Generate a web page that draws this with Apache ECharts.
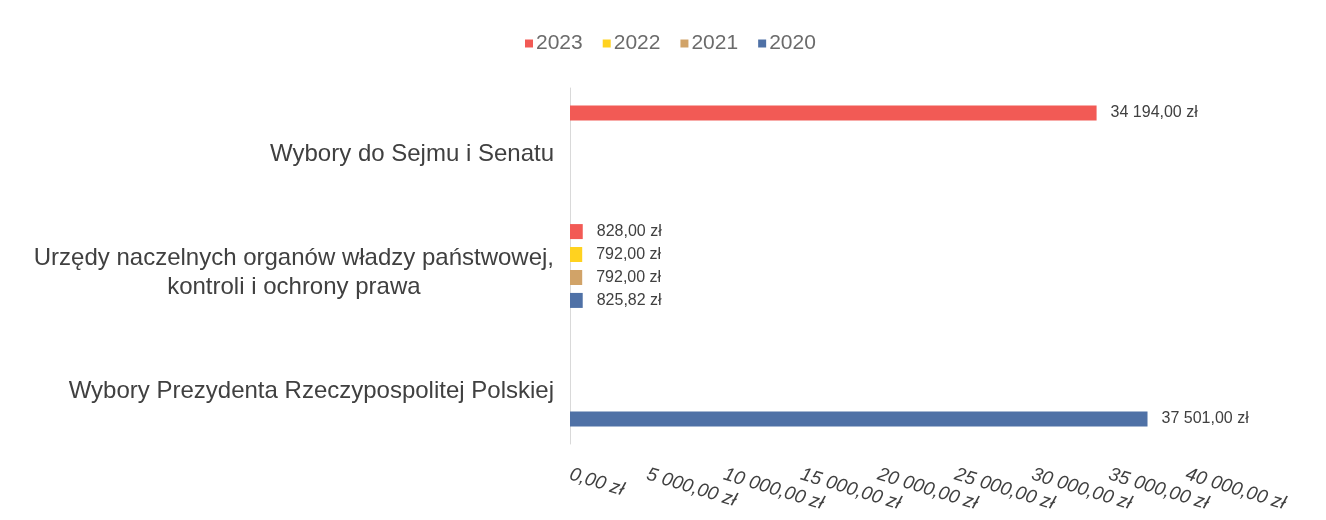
<!DOCTYPE html>
<html>
<head>
<meta charset="utf-8">
<script src="https://cdn.jsdelivr.net/npm/echarts@6/dist/echarts.min.js"></script>
<style>
  html, body { margin: 0; padding: 0; background: #fff; }
  #chart { width: 1326px; height: 520px; }
</style>
</head>
<body>
<div id="chart"></div>
<script>
const categories = [
  "Wybory do Sejmu i Senatu",
  "Urzędy naczelnych organów władzy państwowej,\nkontroli i ochrony prawa",
  "Wybory Prezydenta Rzeczypospolitej Polskiej",
];
const years = ["2023", "2022", "2021", "2020"];
const colors = ["#F25A55", "#FFD21F", "#D1A368", "#4F71A6"];
const v2023 = [34194, 828, null];
const v2022 = [null, 792, null];
const v2021 = [null, 792, null];
const v2020 = [null, 825.82, 37501];
const values = [v2023, v2022, v2021, v2020];

function zl(v) {
  const [i, d] = Number(v).toFixed(2).split(".");
  return i.replace(/\B(?=(\d{3})+(?!\d))/g, " ") + "," + d + " zł";
}

const chart = echarts.init(document.getElementById("chart"), null, { renderer: "canvas" });
chart.setOption({
  animation: false,
  textStyle: { fontFamily: "Liberation Sans, Arial, sans-serif" },
  legend: {
    top: 28, left: 520,
    itemWidth: 8, itemHeight: 8, itemGap: 20,
    icon: "rect",
    textStyle: { fontSize: 21, color: "#6b6b6b", padding: [0, 0, 0, -2] },
    data: years,
  },
  grid: { left: 570, right: 140, top: 88, bottom: 76, containLabel: false },
  xAxis: {
    type: "value", min: 0, max: 40000, interval: 5000,
    axisLine: { show: false }, axisTick: { show: false },
    splitLine: { show: false },
    axisLabel: {
      rotate: -17, margin: 30, fontSize: 19, fontStyle: "italic", color: "#404040",
      formatter: (v) => zl(v),
    },
  },
  yAxis: {
    type: "category", inverse: true, data: categories,
    axisLine: { show: true, lineStyle: { color: "#D9D9D9", width: 1 } },
    axisTick: { show: false },
    axisLabel: {
      margin: 16, fontSize: 24, color: "#404040", lineHeight: 29,
      padding: [14, 0, 0, 0],
      formatter: (v) => v.split("\n").map((s) => "{c|" + s + "}").join("\n"),
      rich: { c: { fontSize: 24, color: "#404040", align: "center", lineHeight: 29 } },
    },
  },
  series: years.map((y, k) => ({
    name: y, type: "bar", data: values[k],
    barWidth: 15, barGap: "53%",
    itemStyle: { color: colors[k] },
    label: {
      show: true, position: "right", distance: 14,
      fontSize: 16, color: "#404040",
      formatter: (p) => (p.value == null ? "" : zl(p.value)),
    },
  })),
});
</script>
</body>
</html>
